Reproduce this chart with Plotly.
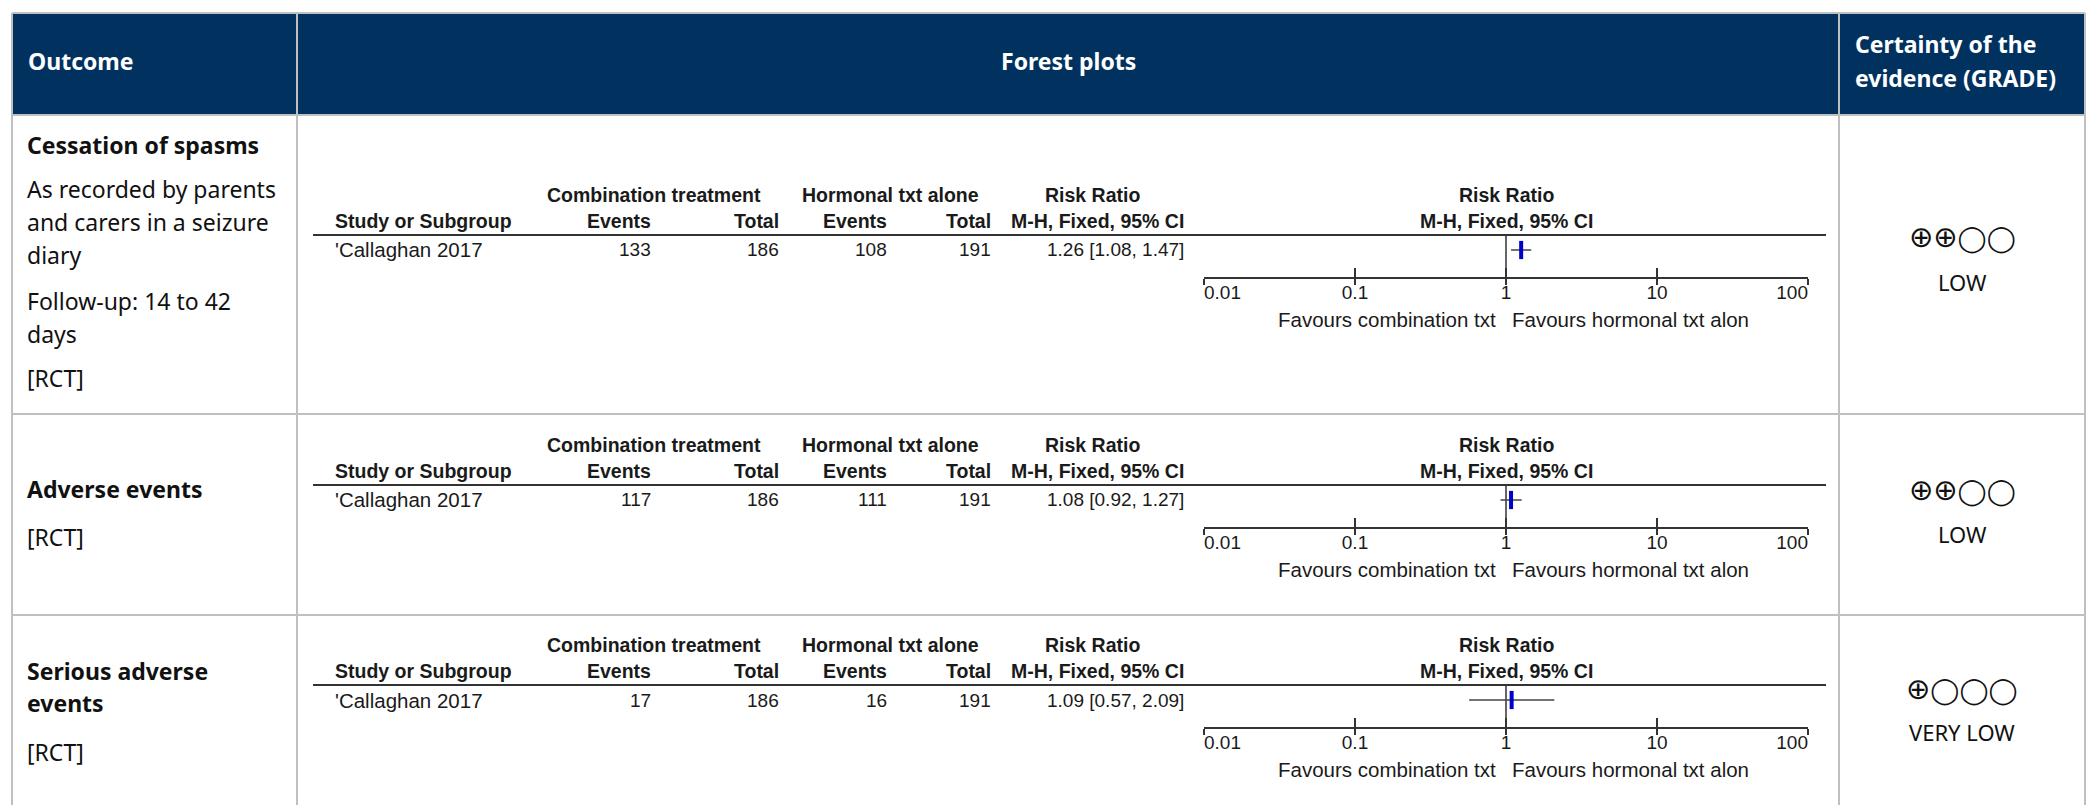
import math
import plotly.graph_objects as go

W, H = 2087, 805

# ---------------- data ----------------
outcome_titles = [["Cessation of spasms"], ["Adverse events"], ["Serious adverse", "events"]]
outcome_notes = [
    [["As recorded by parents", "and carers in a seizure", "diary"], ["Follow-up: 14 to 42", "days"], ["[RCT]"]],
    [["[RCT]"]],
    [["[RCT]"]],
]
study_names = ["'Callaghan 2017", "'Callaghan 2017", "'Callaghan 2017"]
events_comb = [133, 117, 17]
total_comb = [186, 186, 186]
events_horm = [108, 111, 16]
total_horm = [191, 191, 191]
rr = [1.26, 1.08, 1.09]
rr_lo = [1.08, 0.92, 0.57]
rr_hi = [1.47, 1.27, 2.09]
grade_plus = [2, 2, 1]            # number of ⊕ out of 4
grade_labels = ["LOW", "LOW", "VERY LOW"]
tick_vals = [0.01, 0.1, 1, 10, 100]
tick_text = ["0.01", "0.1", "1", "10", "100"]
favours = ["Favours combination txt", "Favours hormonal txt alon"]
col_headers = ["Outcome", "Forest plots"]
grade_header = ["Certainty of the", "evidence (GRADE)"]

# ---------------- layout constants (pixels) ----------------
NAVY = "#01325f"
GRID = "#c0c0c0"
INK = "#1a1a1a"
SANS = "Noto Sans, Open Sans, sans-serif"
ARIAL = "Liberation Sans, Arial, sans-serif"
SYM = "DejaVu Sans, sans-serif"

X_LEFT, X_DIV1, X_DIV2, X_RIGHT = 12, 297, 1839, 2085
Y_TOP, Y_HEAD = 13, 115
row_bounds = [(115, 414), (414, 615), (615, 815)]
row_shift = [0, 250, 450]          # forest block vertical offset per row
PLOT_X0, PLOT_X1 = 1204, 1808      # pixel span of the log axis 0.01..100

def px(x):
    return x / W

def py(y):
    return 1 - y / H

fig = go.Figure()
annotations = []
shapes = []

def ann(text, x, y, size, family, color=INK, xanchor="left", bold=False):
    if bold:
        text = "<b>" + text + "</b>"
    annotations.append(dict(
        text=text, x=px(x), y=py(y), xref="paper", yref="paper",
        xanchor=xanchor, yanchor="middle", showarrow=False,
        font=dict(size=size, family=family, color=color)))

def hline(y, x0, x1, color=GRID, width=2):
    shapes.append(dict(type="line", xref="paper", yref="paper",
                       x0=px(x0), x1=px(x1), y0=py(y), y1=py(y),
                       line=dict(color=color, width=width)))

def vline(x, y0, y1, color=GRID, width=2):
    shapes.append(dict(type="line", xref="paper", yref="paper",
                       x0=px(x), x1=px(x), y0=py(y0), y1=py(y1),
                       line=dict(color=color, width=width)))

# header band
shapes.append(dict(type="rect", xref="paper", yref="paper",
                   x0=px(X_LEFT), x1=px(X_RIGHT), y0=py(Y_HEAD), y1=py(Y_TOP),
                   fillcolor=NAVY, line=dict(width=0), layer="below"))
hline(Y_TOP, X_LEFT, X_RIGHT)
hline(Y_HEAD, X_LEFT, X_RIGHT)
for (t, b) in row_bounds:
    hline(b, X_LEFT, X_RIGHT)
for x in (X_LEFT, X_DIV1, X_DIV2, X_RIGHT):
    vline(x, Y_TOP, 820)

ann(col_headers[0], 26, 61, 23, SANS, "white", bold=True)
ann(col_headers[1], (X_DIV1 + X_DIV2) / 2, 61, 23, SANS, "white", "center", bold=True)
ann(grade_header[0], 1853, 44, 23, SANS, "white", bold=True)
ann(grade_header[1], 1853, 78, 23, SANS, "white", bold=True)

# outcome column text positions (pixel y of each line)
outcome_line_y = [
    [145, [[189, 222, 255], [301, 334], [378]]],
    [489, [[537]]],
    [671, [[752]]],
]
outcome_title_step = 32
grade_y = [(237, 282), (490, 534), (689, 732)]

for i in range(3):
    ty, note_ys = outcome_line_y[i]
    for k, line in enumerate(outcome_titles[i]):
        ann(line, 25, ty + k * outcome_title_step, 23, SANS, "#111111", bold=True)
    for para, ys in zip(outcome_notes[i], note_ys):
        for line, yy in zip(para, ys):
            ann(line, 25, yy, 23, SANS, "#111111")
    gx = (X_DIV2 + X_RIGHT) / 2
    sym = ('<span style="font-size:29px">' + "⊕" * grade_plus[i] + "</span>"
           + "◯" * (4 - grade_plus[i]))
    ann(sym, gx, grade_y[i][0], 26, SYM, "#111111", "center")
    ann(grade_labels[i], gx, grade_y[i][1], 22, SANS, "#111111", "center")

# forest plot blocks
FB = 19.5   # bold headers
FD = 19     # digits
FT = 20.5   # regular words
for i in range(3):
    s = row_shift[i]
    h1, h2, line_y, data_y, axis_y = 195 + s, 221 + s, 235 + s, 250 + s, 278 + s
    # table headers
    ann("Combination treatment", 654, h1, FB, ARIAL, xanchor="center", bold=True)
    ann("Hormonal txt alone", 890, h1, FB, ARIAL, xanchor="center", bold=True)
    ann("Risk Ratio", 1092, h1, FB, ARIAL, xanchor="center", bold=True)
    ann("Risk Ratio", 1506, h1, FB, ARIAL, xanchor="center", bold=True)
    ann("Study or Subgroup", 333, h2, FB, ARIAL, bold=True)
    ann("Events", 653, h2, FB, ARIAL, xanchor="right", bold=True)
    ann("Total", 781, h2, FB, ARIAL, xanchor="right", bold=True)
    ann("Events", 889, h2, FB, ARIAL, xanchor="right", bold=True)
    ann("Total", 993, h2, FB, ARIAL, xanchor="right", bold=True)
    ann("M-H, Fixed, 95% CI", 1186, h2, FB, ARIAL, xanchor="right", bold=True)
    ann("M-H, Fixed, 95% CI", 1506, h2, FB, ARIAL, xanchor="center", bold=True)
    hline(line_y, 313, 1826, color="#333333", width=2)
    # study row
    ann(study_names[i], 333, data_y, FT, ARIAL)
    ann(str(events_comb[i]), 653, data_y, FD, ARIAL, xanchor="right")
    ann(str(total_comb[i]), 781, data_y, FD, ARIAL, xanchor="right")
    ann(str(events_horm[i]), 889, data_y, FD, ARIAL, xanchor="right")
    ann(str(total_horm[i]), 993, data_y, FD, ARIAL, xanchor="right")
    ann(f"{rr[i]:.2f} [{rr_lo[i]:.2f}, {rr_hi[i]:.2f}]", 1186, data_y, FD, ARIAL, xanchor="right")

    # plot axes: y value = pixel offset below the header line
    n = "" if i == 0 else str(i + 1)
    xa, ya = "x" + n, "y" + n
    xo = "x" + str(i + 4)
    span = 105
    y_data = data_y - line_y
    y_axis = axis_y - line_y
    y_tick = 294 + s - line_y
    y_fav = 319 + s - line_y

    fig.add_trace(go.Scatter(x=[1, 1], y=[0, y_axis], mode="lines",
                             line=dict(color="#333333", width=1.5),
                             xaxis=xa, yaxis=ya, hoverinfo="skip", showlegend=False))
    fig.add_trace(go.Scatter(x=[rr_lo[i], rr_hi[i]], y=[y_data, y_data], mode="lines",
                             line=dict(color="#444444", width=1.5),
                             xaxis=xa, yaxis=ya, showlegend=False))
    fig.add_trace(go.Scatter(x=[rr[i]], y=[y_data], mode="markers",
                             marker=dict(symbol="line-ns", size=13,
                                         line=dict(color="#0000c8", width=4)),
                             xaxis=xa, yaxis=ya, showlegend=False))
    fig.add_trace(go.Scatter(x=tick_vals, y=[y_tick] * 5, mode="text", text=tick_text,
                             textposition=["middle right", "middle center", "middle center",
                                           "middle center", "middle left"],
                             textfont=dict(size=FD, family=ARIAL, color=INK),
                             cliponaxis=False, xaxis=xo, yaxis=ya,
                             hoverinfo="skip", showlegend=False))
    # "favours" labels either side of the null value
    annotations.append(dict(text=favours[0], x=math.log10(1), y=y_fav, xref=xa, yref=ya,
                            xanchor="right", yanchor="middle", xshift=-8, showarrow=False,
                            font=dict(size=FT, family=ARIAL, color=INK)))
    annotations.append(dict(text=favours[1], x=math.log10(1), y=y_fav, xref=xa, yref=ya,
                            xanchor="left", yanchor="middle", xshift=4, showarrow=False,
                            font=dict(size=FT, family=ARIAL, color=INK)))

    dom = [px(PLOT_X0), px(PLOT_X1)]
    apos = py(axis_y)
    fig.update_layout(**{
        ("xaxis" + n): dict(type="log", range=[-2, 2], domain=dom, anchor="free",
                            position=apos, showline=True, linecolor="#333333", linewidth=2,
                            ticks="inside", ticklen=9, tickwidth=2, tickcolor="#333333",
                            tickvals=tick_vals, showticklabels=False,
                            showgrid=False, zeroline=False, fixedrange=True),
        ("xaxis" + str(i + 4)): dict(type="log", range=[-2, 2], domain=dom, anchor="free",
                                     overlaying=xa, position=apos, showline=False,
                                     ticks="outside", ticklen=6, tickwidth=2,
                                     tickcolor="#333333", tickvals=tick_vals,
                                     showticklabels=False, showgrid=False,
                                     zeroline=False, fixedrange=True),
        ("yaxis" + n): dict(range=[span, 0], domain=[py(line_y + span), py(line_y)],
                            anchor=xa, visible=False, showgrid=False, zeroline=False,
                            fixedrange=True),
    })

fig.update_layout(
    width=W, height=H, margin=dict(l=0, r=0, t=0, b=0),
    paper_bgcolor="white", plot_bgcolor="rgba(0,0,0,0)",
    shapes=shapes, annotations=annotations, showlegend=False,
)

fig.write_html("out.html")
